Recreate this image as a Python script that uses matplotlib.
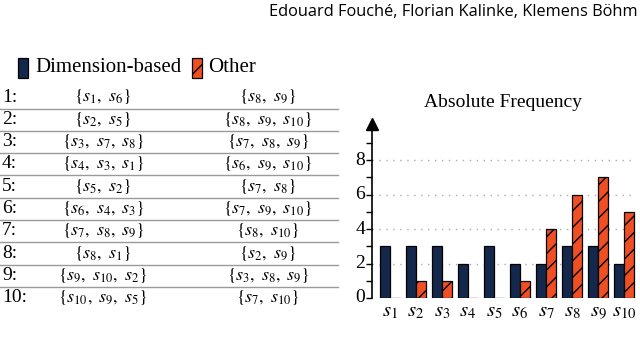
import numpy as np
import matplotlib.pyplot as plt
from matplotlib.lines import Line2D
from matplotlib.patches import Rectangle
from matplotlib.transforms import blended_transform_factory

plt.rcParams['font.family'] = 'serif'
plt.rcParams['font.serif'] = ['Liberation Serif', 'DejaVu Serif']
plt.rcParams['font.sans-serif'] = ['Open Sans', 'DejaVu Sans']
plt.rcParams['mathtext.fontset'] = 'stix'

# table content: one row per query
row_labels = ['1:', '2:', '3:', '4:', '5:', '6:', '7:', '8:', '9:', '10:']
dim_sets = [[1, 6], [2, 5], [3, 7, 8], [4, 3, 1], [5, 2],
            [6, 4, 3], [7, 8, 9], [8, 1], [9, 10, 2], [10, 9, 5]]
other_sets = [[8, 9], [8, 9, 10], [7, 8, 9], [6, 9, 10], [7, 8],
              [7, 9, 10], [8, 10], [2, 9], [3, 8, 9], [7, 10]]

# bar chart values
subspaces = ['$s_{%d}$' % i for i in range(1, 11)]
dim_counts = [3, 3, 3, 2, 3, 2, 2, 3, 3, 2]
other_counts = [0, 1, 1, 0, 0, 1, 4, 6, 7, 5]
y_ticks = [0, 2, 4, 6, 8]

navy = '#14284b'
orange = '#f04e23'

fig = plt.figure(figsize=(6.4, 3.4), dpi=100)


def fmt(s):
    return r'$\left\{' + r',\ '.join('s_{%d}' % i for i in s) + r'\right\}$'


# bar chart on the right
ax = fig.add_axes([372 / 640, 42 / 340, 264 / 640, 174.2 / 340])
x = np.arange(len(subspaces))
w = 0.38
ax.bar(x - w / 2, dim_counts, w, color=navy, edgecolor='black', lw=0.9, zorder=3)
ax.bar(x + w / 2, other_counts, w, color=orange, edgecolor='black', lw=0.9,
       hatch='//', zorder=3)

for g in y_ticks[1:]:
    ax.axhline(g, color='#aaaaaa', lw=1, ls=(0, (1, 4)), zorder=1)

ax.set_xlim(-0.69, 9.46)
ax.set_ylim(0, 10.1)
ax.set_yticks(y_ticks)
ax.set_yticks([1, 3, 5, 7, 9], minor=True)
ax.tick_params(axis='y', which='both', direction='out', length=4, width=1,
               labelleft=False)
ax.set_xticks(x)
ax.set_xticklabels(subspaces, fontsize=15)
ax.tick_params(axis='x', length=0, pad=3)
for s in ['top', 'right', 'bottom']:
    ax.spines[s].set_visible(False)
ax.spines['left'].set_linewidth(1.2)
ax.plot([0], [1], marker='^', ms=9, color='black', transform=ax.transAxes,
        clip_on=False)

# y tick labels as figure text (serif)
ytrans = blended_transform_factory(fig.transFigure, ax.transData)
for v in y_ticks:
    fig.text(365 / 640, v, str(v), transform=ytrans, ha='right', va='center',
             fontsize=14)

fig.text(503 / 640, 1 - 102 / 340, 'Absolute Frequency', ha='center',
         va='center', fontsize=14)

# legend
fig.add_artist(Rectangle((18 / 640, 1 - 78 / 340), 10 / 640, 20 / 340,
                         transform=fig.transFigure, facecolor=navy,
                         edgecolor='black', lw=0.9))
fig.add_artist(Rectangle((192 / 640, 1 - 78 / 340), 10 / 640, 20 / 340,
                         transform=fig.transFigure, facecolor=orange,
                         edgecolor='black', lw=0.9, hatch='//'))
fig.text(35 / 640, 1 - 68 / 340, 'Dimension-based', ha='left', va='center',
         fontsize=15)
fig.text(208 / 640, 1 - 68 / 340, 'Other', ha='left', va='center', fontsize=15)

# table on the left
for i in range(10):
    y = 1 - (97 + 22.33 * i) / 340
    fig.text(2 / 640, y, row_labels[i], ha='left', va='center', fontsize=14)
    fig.text(103 / 640, y, fmt(dim_sets[i]), ha='center', va='center', fontsize=13)
    fig.text(268 / 640, y, fmt(other_sets[i]), ha='center', va='center', fontsize=13)
    if i < 9:
        yl = 1 - (108.5 + 22.33 * i) / 340
        fig.add_artist(Line2D([0, 338 / 640], [yl, yl], color='#9a9a9a', lw=1.0))

# header
fig.text(0.997, 1 - 12 / 340, 'Edouard Fouché, Florian Kalinke, Klemens Böhm',
         ha='right', va='center', family='sans-serif', fontsize=11.8)

fig.savefig('out.png', dpi=100)
